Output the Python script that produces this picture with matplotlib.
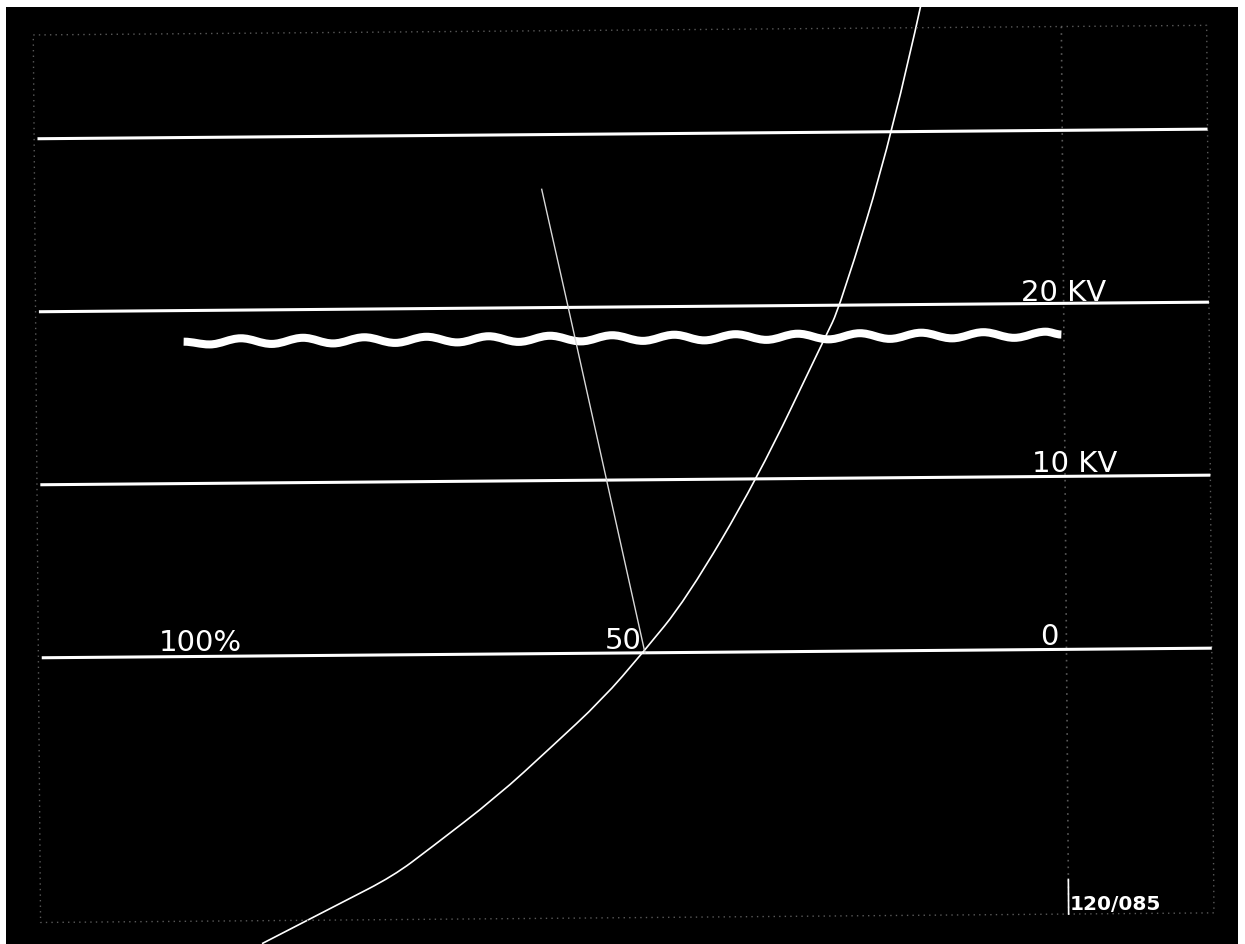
import matplotlib.pyplot as plt
from matplotlib.path import Path
from matplotlib.patches import PathPatch, Rectangle
from matplotlib.transforms import Affine2D


# scale: x in percent (100 left .. 0 right), y in kV
kv_levels = [0, 10, 20, 30]
kv_labels = ['', '10 KV', '20 KV', '']
pct_labels = ['100%', '50', '0']
pct_label_pos = [108.0, 50.6, 2.0]

# fast rising curve
curve_pct = [95.6, 86.0, 80.0, 75.6, 67.6, 61.3, 55.1, 50.3, 45.1, 36.7, 28.6, 26.8, 20.5, 17.0]
curve_kv = [-16.8, -14.4, -12.9, -11.3, -8.3, -5.5, -2.7, 0.0, 3.1, 10.0, 18.2, 20.0, 30.0, 37.8]

# thin straight trace
thin_pct = [62.3, 59.2, 50.0]
thin_kv = [26.8, 20.1, 0.0]

# rippled dc trace: crests and troughs
wave_start, wave_end = 104.8, 0.3
wave_mid = 18.2
wave_amp = 0.17
wave_troughs = [101.7, 94.3, 87.0, 79.6, 72.2, 64.9, 57.5, 50.1, 42.8, 35.4, 28.0, 20.7, 13.3, 5.9]
wave_crests = [98.0, 90.6, 83.3, 75.9, 68.5, 61.2, 53.8, 46.4, 39.1, 31.7, 24.3, 17.0, 9.6, 2.2]

plate_no = '120/085'


fig = plt.figure(figsize=(12.45, 9.45), dpi=100, facecolor='white')
ax = fig.add_axes([0, 0, 1, 1])
ax.set_facecolor('black')
ax.set_xlim(126.79, -21.43)
ax.set_ylim(-16.82, 37.80)
ax.set_xticks([])
ax.set_yticks([])
for s in ax.spines.values():
    s.set_visible(False)

# photo is slightly rotated
tr = ax.transData + Affine2D().rotate_deg_around(622.5, 472.5, 0.47)

# dotted graticule frame
grey = '#5a5a5a'
frame_x = [122.4, -17.3, -17.3, 122.4, 122.4]
frame_y = [36.0, 36.0, -15.3, -15.3, 36.0]
ax.plot(frame_x, frame_y, color=grey, lw=1.0, ls=(0, (1, 3)), transform=tr)
ax.plot([0, 0], [36.0, -15.3], color=grey, lw=1.2, ls=(0, (1, 3)), transform=tr)

# horizontal kV lines
for lv in kv_levels:
    ax.plot([122.0, -17.3], [lv, lv], color='white', lw=2.2, solid_capstyle='butt', transform=tr)

# ripple trace as smooth bezier path
ext_x = [wave_start]
ext_y = [wave_mid]
for t, c in zip(wave_troughs, wave_crests):
    ext_x += [t, c]
    ext_y += [wave_mid - wave_amp, wave_mid + wave_amp]
ext_x.append(wave_end)
ext_y.append(wave_mid)

verts = [(ext_x[0], ext_y[0])]
codes = [Path.MOVETO]
for i in range(len(ext_x) - 1):
    x0, y0, x1, y1 = ext_x[i], ext_y[i], ext_x[i + 1], ext_y[i + 1]
    dx = x1 - x0
    verts += [(x0 + 0.364 * dx, y0), (x1 - 0.364 * dx, y1), (x1, y1)]
    codes += [Path.CURVE4] * 3
wave = PathPatch(Path(verts, codes), fill=False, edgecolor='white', lw=5.8,
                 capstyle='butt', transform=tr)
ax.add_patch(wave)

# rising trace, smoothed with quadratic segments through midpoints
pts = list(zip(curve_pct, curve_kv))
cverts = [pts[0]]
ccodes = [Path.MOVETO]
for i in range(1, len(pts) - 1):
    mid = ((pts[i][0] + pts[i + 1][0]) / 2, (pts[i][1] + pts[i + 1][1]) / 2)
    if i == len(pts) - 2:
        mid = pts[-1]
    cverts += [pts[i], mid]
    ccodes += [Path.CURVE3, Path.CURVE3]
ax.add_patch(PathPatch(Path(cverts, ccodes), fill=False, edgecolor='white', lw=1.2))

ax.plot(thin_pct, thin_kv, color='#d8d8d8', lw=1.0)

# labels
lab = dict(color='white', fontsize=21, va='baseline', transform=tr)
ax.text(pct_label_pos[0], 0.4, pct_labels[0], ha='left', **lab)
ax.text(pct_label_pos[1], 0.3, pct_labels[1], ha='right', **lab)
ax.text(pct_label_pos[2], 0.3, pct_labels[2], ha='center', **lab)
ax.text(3.9, 10.3, kv_labels[1], ha='left', **lab)
ax.text(5.1, 20.2, kv_labels[2], ha='left', **lab)

ax.plot([0, 0], [-13.3, -15.3], color='white', lw=1.2, transform=tr)
ax.text(-0.1, -15.0, plate_no, color='white', fontsize=14.5, fontweight='bold',
        ha='left', va='baseline', transform=tr)

# white scan borders
fig.add_artist(Rectangle((0, 1 - 8 / 945), 1, 8 / 945, transform=fig.transFigure,
                         facecolor='white', edgecolor='none'))
fig.add_artist(Rectangle((0, 0), 6 / 1245, 1, transform=fig.transFigure,
                         facecolor='white', edgecolor='none'))
fig.add_artist(Rectangle((1238 / 1245, 0), 7 / 1245, 1, transform=fig.transFigure,
                         facecolor='white', edgecolor='none'))

fig.savefig('out.png', dpi=100, facecolor='white')
